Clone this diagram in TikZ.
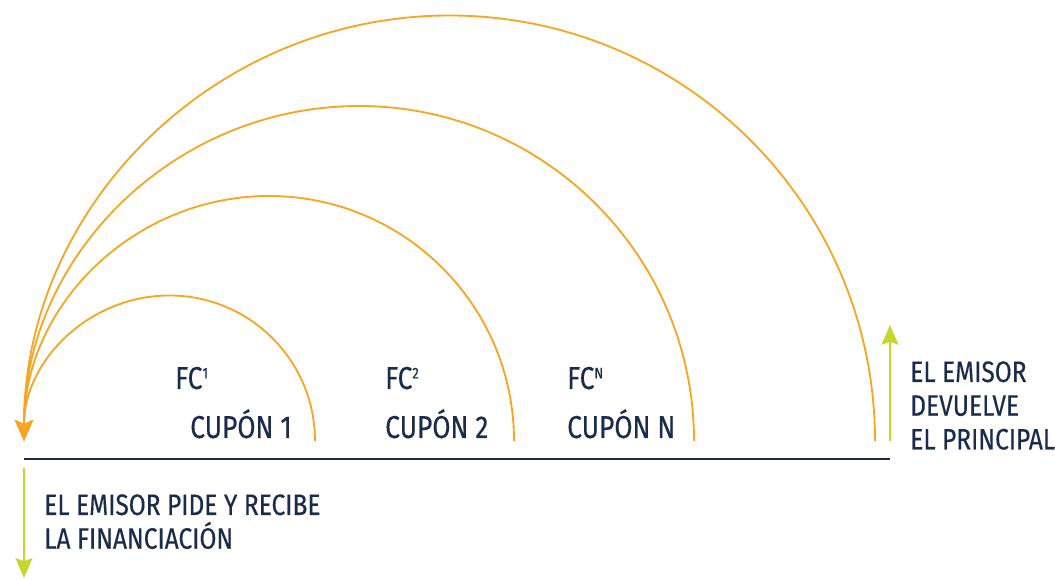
\documentclass[tikz,border=0pt]{standalone}
\usepackage{fontspec}
\setmainfont{Fira Sans}[FakeStretch=0.83,FakeBold=0.4]
\usetikzlibrary{arrows.meta}
\definecolor{bondorange}{HTML}{F6A623}
\definecolor{bondnavy}{HTML}{1C2B4B}
\definecolor{bondgreen}{HTML}{C3D72E}
\newcommand{\fcsup}[1]{\raisebox{7.5pt}{\fontsize{11}{11}\selectfont #1}}
\begin{document}
\begin{tikzpicture}

        \useasboundingbox (0,0) rectangle (26.375,14.5);

        \coordinate (s)  at (0.6,3.475);
        \coordinate (c1) at (7.875,3.475);
        \coordinate (c2) at (12.85,3.475);
        \coordinate (cn) at (17.35,3.475);
        \coordinate (p)  at (21.875,3.475);
        \coordinate (a0) at (0.6,3.025);
        \coordinate (a1) at (22.25,3.025);
        \coordinate (d0) at (0.6,2.8);
        \coordinate (d1) at (0.6,0.05);
        \coordinate (u0) at (22.25,3.475);
        \coordinate (u1) at (22.25,6.375);

        \begin{scope}[every path/.style={draw=bondorange,line width=1.3pt,-{Stealth[length=15pt,width=13pt,inset=3pt]}}]
          \path (c1) arc[start angle=0,end angle=180,radius=3.6375cm];
          \path (c2) arc[start angle=0,end angle=180,radius=6.125cm];
          \path (cn) arc[start angle=0,end angle=180,radius=8.375cm];
          \path (p)  arc[start angle=0,end angle=180,radius=10.6375cm];
        \end{scope}

        \draw[bondnavy,line width=1.4pt] (a0) -- (a1);

        \begin{scope}[every path/.style={draw=bondgreen,line width=1.4pt,-{Stealth[length=14pt,width=12pt,inset=2pt]}}]
          \path (d0) -- (d1);
          \path (u0) -- (u1);
        \end{scope}

        \begin{scope}[every node/.style={text=bondnavy,inner sep=0pt,font=\fontsize{21}{24}\selectfont}]
          \begin{scope}[every node/.append style={font=\fontsize{22.5}{24}\selectfont}]
            \node[anchor=base west] (fc1)  at (4.375,4.775)  {FC\fcsup{1}};
            \node[anchor=base west] (cup1) at (4.75,3.55)    {CUPÓN 1};
            \node[anchor=base west] (fc2)  at (9.625,4.775)  {FC\fcsup{2}};
            \node[anchor=base west] (cup2) at (9.625,3.55)   {CUPÓN 2};
            \node[anchor=base west] (fcn)  at (14.175,4.775) {FC\fcsup{N}};
            \node[anchor=base west] (cupn) at (14.175,3.55)  {CUPÓN N};
          \end{scope}
          \node[anchor=north west,align=left] (ret) at (22.75,5.475)
            {EL EMISOR\\DEVUELVE\\EL PRINCIPAL};
          \node[anchor=north west,align=left] (fin) at (1.1,2.15)
            {EL EMISOR PIDE Y RECIBE\\LA FINANCIACIÓN};
        \end{scope}

      \end{tikzpicture}
\end{document}
